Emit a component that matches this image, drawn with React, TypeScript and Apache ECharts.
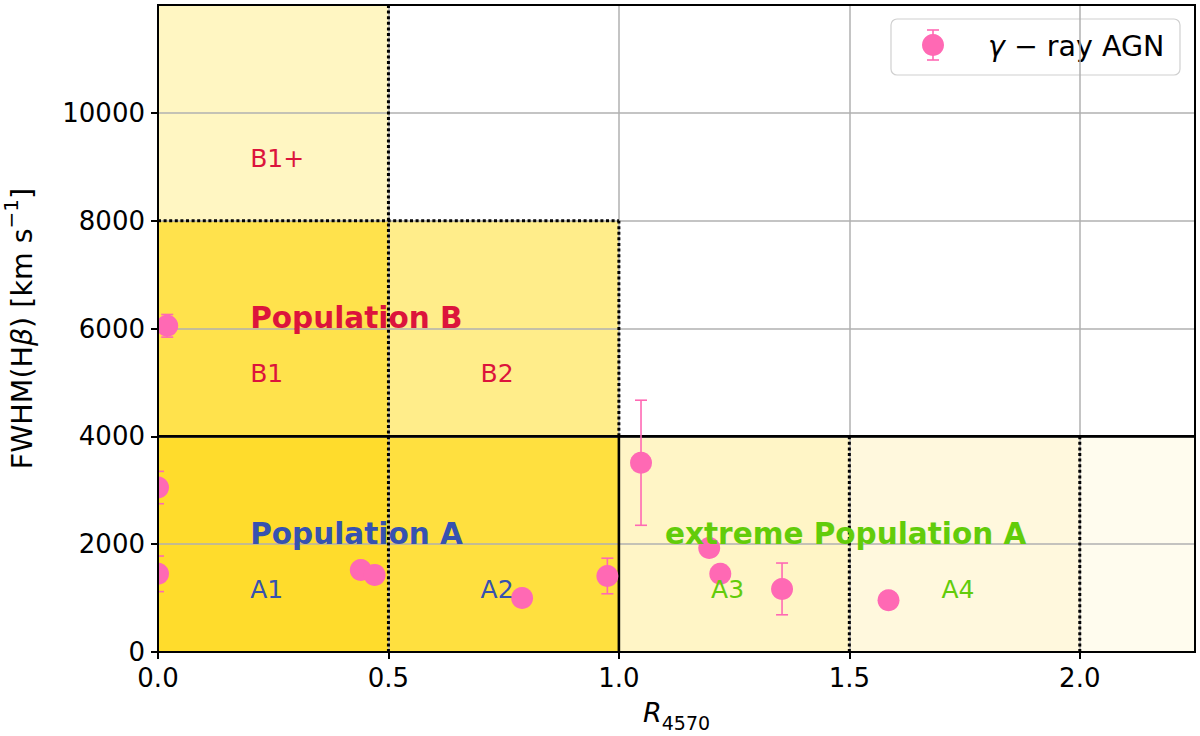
import React, { useEffect, useRef } from "react";
import * as echarts from "echarts";

// ---- data ----
const xTicks = [0, 0.5, 1.0, 1.5, 2.0];
const yTicks = [0, 2000, 4000, 6000, 8000, 10000];

// gamma-ray AGN: R4570, FWHM(Hbeta) and its error
const agnR = [0.02, 0.0, 0.0, 0.44, 0.47, 0.79, 0.975, 1.048, 1.196, 1.22, 1.354, 1.585];
const agnFWHM = [6050, 3050, 1450, 1520, 1430, 1000, 1410, 3510, 1930, 1450, 1170, 960];
const agnErr = [210, 300, 330, 150, 150, 150, 330, 1160, 150, 150, 480, 150];

// quasar main-sequence bins (R4570 range, FWHM range)
const binNames = ["A1", "A2", "B1", "B2", "B1+", "A3", "A4", "A5"];
const binX0 = [0, 0.5, 0, 0.5, 0, 1.0, 1.5, 2.0];
const binX1 = [0.5, 1.0, 0.5, 1.0, 0.5, 1.5, 2.0, 2.25];
const binY0 = [0, 0, 4000, 4000, 8000, 0, 0, 0];
const binY1 = [4000, 4000, 8000, 8000, 12000, 4000, 4000, 4000];

// boundary segments
const solidX0 = [0, 1.0];
const solidY0 = [4000, 0];
const solidX1 = [2.25, 1.0];
const solidY1 = [4000, 4000];
const dotX0 = [0.5, 0, 1.0, 1.5, 2.0];
const dotY0 = [0, 8000, 4000, 0, 0];
const dotX1 = [0.5, 1.0, 1.0, 1.5, 2.0];
const dotY1 = [12000, 8000, 8000, 4000, 4000];

// annotations
const noteText = ["B1+", "Population B", "B1", "B2", "Population A", "A1", "A2", "extreme Population A", "A3", "A4"];
const noteX = [0.2, 0.2, 0.2, 0.7, 0.2, 0.2, 0.7, 1.1, 1.2, 1.7];
const noteY = [9000, 6000, 5000, 5000, 2000, 1000, 1000, 2000, 1000, 1000];
const noteGroup = ["B", "B", "B", "B", "A", "A", "A", "xA", "xA", "xA"];
const noteBold = [false, true, false, false, true, false, false, true, false, false];

// ---- styles ----
const FONT = "DejaVu Sans";
const PINK = "#ff69b4";
const binColors: Record<string, string> = {
  A1: "#ffdc2c",
  A2: "#ffe03f",
  B1: "#ffe24c",
  B2: "#ffed8a",
  "B1+": "#fff6c2",
  A3: "#fff5c6",
  A4: "#fff8dd",
  A5: "#fffcee",
};
const groupColors: Record<string, string> = { B: "#dc143c", A: "#3652b0", xA: "#62cc0a" };

export default function App() {
  const ref = useRef<HTMLDivElement>(null);

  useEffect(() => {
    if (!ref.current) return;
    const chart = echarts.init(ref.current, undefined, { renderer: "svg" });

    const gridLeft = 158, gridTop = 5, gridW = 1037, gridH = 647;

    const binData = binNames.map((n, i) => [binX0[i], binX1[i], binY0[i], binY1[i]]);
    const segData = [
      ...solidX0.map((_, i) => [solidX0[i], solidY0[i], solidX1[i], solidY1[i], 0]),
      ...dotX0.map((_, i) => [dotX0[i], dotY0[i], dotX1[i], dotY1[i], 1]),
    ];
    const agnData = agnR.map((r, i) => [r, agnFWHM[i], agnErr[i]]);
    const noteData = noteX.map((x, i) => [x, noteY[i]]);

    const option: any = {
      animation: false,
      backgroundColor: "#ffffff",
      grid: {
        left: gridLeft,
        top: gridTop,
        width: gridW,
        height: gridH,
        show: true,
        backgroundColor: "transparent",
        borderColor: "#000000",
        borderWidth: 2,
        z: 8,
      },
      xAxis: {
        type: "value",
        min: 0,
        max: 2.25,
        interval: 0.5,
        z: 3,
        axisLine: { show: true, onZero: false, lineStyle: { color: "#000", width: 2 } },
        axisTick: { show: true, length: 7, customValues: xTicks, lineStyle: { color: "#000", width: 2 } },
        axisLabel: {
          customValues: xTicks,
          margin: 13,
          color: "#000",
          fontFamily: FONT,
          fontSize: 26,
          formatter: (v: number) => v.toFixed(1),
        },
        splitLine: { show: true, lineStyle: { color: "#b0b0b0", width: 1.5 } },
      },
      yAxis: {
        type: "value",
        min: 0,
        max: 12000,
        interval: 2000,
        z: 3,
        axisLine: { show: true, onZero: false, lineStyle: { color: "#000", width: 2 } },
        axisTick: { show: true, length: 7, customValues: yTicks, lineStyle: { color: "#000", width: 2 } },
        axisLabel: {
          customValues: yTicks,
          margin: 13,
          color: "#000",
          fontFamily: FONT,
          fontSize: 26,
          formatter: (v: number) => String(Math.round(v)),
        },
        splitLine: { show: true, lineStyle: { color: "#b0b0b0", width: 1.5 } },
      },
      series: [
        {
          type: "custom",
          name: "bins",
          z: 1,
          clip: true,
          silent: true,
          data: binData,
          renderItem: (params: any, api: any) => {
            const p0 = api.coord([api.value(0), api.value(3)]);
            const p1 = api.coord([api.value(1), api.value(2)]);
            return {
              type: "rect",
              shape: { x: p0[0], y: p0[1], width: p1[0] - p0[0], height: p1[1] - p0[1] },
              style: { fill: binColors[binNames[params.dataIndex]] },
            };
          },
        },
        {
          type: "custom",
          name: "bounds",
          z: 4,
          clip: true,
          silent: true,
          data: segData,
          renderItem: (params: any, api: any) => {
            const a = api.coord([api.value(0), api.value(1)]);
            const b = api.coord([api.value(2), api.value(3)]);
            const dotted = api.value(4) === 1;
            return {
              type: "line",
              shape: { x1: a[0], y1: a[1], x2: b[0], y2: b[1] },
              style: dotted
                ? { stroke: "#000", lineWidth: 3, lineDash: [3, 2.6] }
                : { stroke: "#000", lineWidth: 2.6 },
            };
          },
        },
        {
          type: "custom",
          name: "γ-ray AGN",
          z: 5,
          clip: true,
          data: agnData,
          renderItem: (params: any, api: any) => {
            const x = api.value(0), y = api.value(1), e = api.value(2);
            const c = api.coord([x, y]);
            const top = api.coord([x, y + e]);
            const bot = api.coord([x, y - e]);
            const cap = 6;
            const ls = { stroke: PINK, lineWidth: 1.6 };
            return {
              type: "group",
              children: [
                { type: "line", shape: { x1: c[0], y1: top[1], x2: c[0], y2: bot[1] }, style: ls },
                { type: "line", shape: { x1: c[0] - cap, y1: top[1], x2: c[0] + cap, y2: top[1] }, style: ls },
                { type: "line", shape: { x1: c[0] - cap, y1: bot[1], x2: c[0] + cap, y2: bot[1] }, style: ls },
                { type: "circle", shape: { cx: c[0], cy: c[1], r: 11 }, style: { fill: PINK } },
              ],
            };
          },
        },
        {
          type: "custom",
          name: "notes",
          z: 6,
          silent: true,
          data: noteData,
          renderItem: (params: any, api: any) => {
            const i = params.dataIndex;
            const p = api.coord([api.value(0), api.value(1)]);
            const bold = noteBold[i];
            const fs = bold ? 29.5 : 25;
            return {
              type: "text",
              x: p[0],
              y: p[1] - 0.35 * fs,
              style: {
                text: noteText[i],
                fill: groupColors[noteGroup[i]],
                fontFamily: FONT,
                fontSize: fs,
                fontWeight: bold ? "bold" : "normal",
                align: "left",
                verticalAlign: "middle",
              },
            };
          },
        },
      ],
      graphic: [
        // y-axis title
        {
          type: "text",
          x: 22,
          y: gridTop + gridH / 2,
          rotation: Math.PI / 2,
          z: 20,
          style: {
            text: "{n|FWHM(H}{i|β}{n|) [km s}{s|−1}{n|]}",
            align: "center",
            verticalAlign: "middle",
            rich: {
              n: { fontFamily: FONT, fontSize: 28.5, lineHeight: 42, fill: "#000" },
              i: { fontFamily: FONT, fontSize: 28.5, lineHeight: 42, fontStyle: "italic", fill: "#000" },
              s: { fontFamily: FONT, fontSize: 20, lineHeight: 20, verticalAlign: "top", fill: "#000" },
            },
          },
        },
        // x-axis title
        {
          type: "text",
          x: gridLeft + gridW / 2,
          y: 712,
          z: 20,
          style: {
            text: "{r|R}{s|4570}",
            align: "center",
            verticalAlign: "middle",
            rich: {
              r: { fontFamily: FONT, fontSize: 27, lineHeight: 40, fontStyle: "italic", fill: "#000" },
              s: { fontFamily: FONT, fontSize: 19, lineHeight: 19, verticalAlign: "bottom", fill: "#000" },
            },
          },
        },
        // legend
        {
          type: "group",
          z: 20,
          children: [
            {
              type: "rect",
              shape: { x: 891, y: 19, width: 289, height: 56, r: 6 },
              style: { fill: "rgba(255,255,255,0.8)", stroke: "#d0d0d0", lineWidth: 1.2 },
            },
            { type: "line", shape: { x1: 933, y1: 30, x2: 933, y2: 60 }, style: { stroke: PINK, lineWidth: 1.6 } },
            { type: "line", shape: { x1: 927, y1: 30, x2: 939, y2: 30 }, style: { stroke: PINK, lineWidth: 1.6 } },
            { type: "line", shape: { x1: 927, y1: 60, x2: 939, y2: 60 }, style: { stroke: PINK, lineWidth: 1.6 } },
            { type: "circle", shape: { cx: 933, cy: 45, r: 11 }, style: { fill: PINK } },
            {
              type: "text",
              x: 988,
              y: 46,
              style: {
                text: "{g|γ} − ray AGN",
                fill: "#000",
                fontFamily: FONT,
                fontSize: 28.5,
                align: "left",
                verticalAlign: "middle",
                rich: {
                  g: { fontFamily: FONT, fontSize: 28.5, fontStyle: "italic", fill: "#000" },
                },
              },
            },
          ],
        },
      ],
    };

    chart.setOption(option);
    return () => chart.dispose();
  }, []);

  return (
    <div
      ref={ref}
      style={{ position: "absolute", left: 0, top: 0, width: 1200, height: 736, background: "#fff" }}
    />
  );
}
